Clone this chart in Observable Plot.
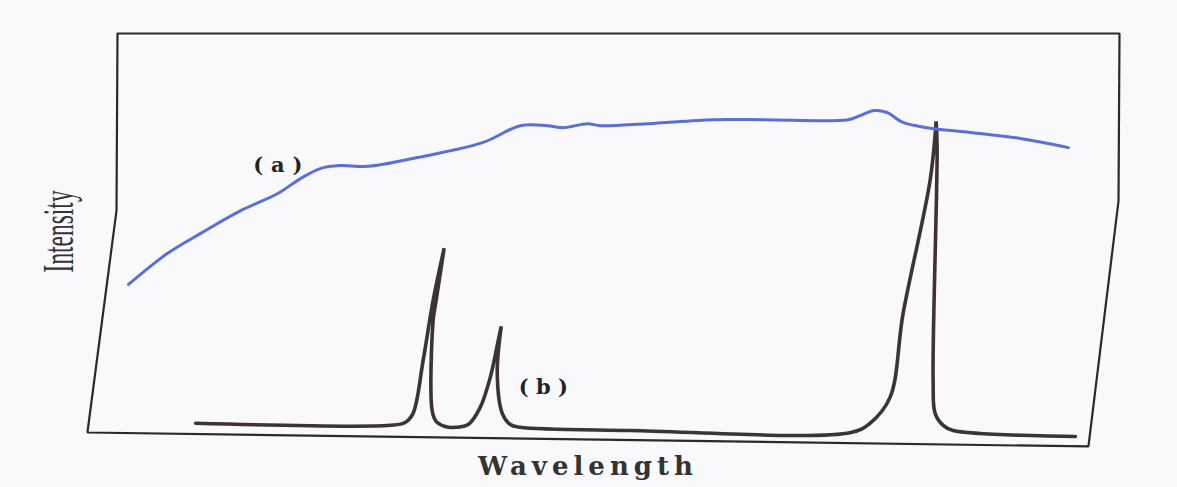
<!DOCTYPE html>
<html>
<head>
<meta charset="utf-8">
<script src="https://cdn.jsdelivr.net/npm/d3@7"></script>
<script src="https://cdn.jsdelivr.net/npm/@observablehq/plot@0.6"></script>
<style>
  html, body { margin: 0; padding: 0; background: #f9f9fb; }
  #chart svg { display: block; background: #f9f9fb; }
</style>
</head>
<body>
<div id="chart"></div>
<script>
// Spectrum (a): continuous source — wavelength (arb. units), intensity (arb. units)
const curveAWavelength = [11, 50, 83, 123, 160, 183, 203, 222, 250, 299, 365, 402, 429, 445, 469, 482, 529, 595, 645, 729, 741, 755, 768, 784, 808, 851, 901, 949];
const curveAIntensity  = [37.1, 44.9, 49.9, 55.6, 59.9, 63.7, 66.2, 66.9, 66.7, 68.9, 72.7, 76.9, 76.9, 76.4, 77.4, 76.9, 77.4, 78.4, 78.4, 78.4, 79.4, 80.7, 80.2, 77.7, 76.4, 75.2, 73.7, 71.4];

// Spectrum (b): line source — traced pen path (wavelength, intensity); peak tips repeated for a sharp cusp
const curveBWavelength = [78, 272, 287, 295, 305, 315, 326, 326, 318, 315, 314, 318, 327, 338, 350, 362, 372, 380, 383, 383, 379, 384, 392, 402, 512, 732, 751, 771, 784, 811, 817, 817, 818, 814, 816, 824, 834, 956];
const curveBIntensity  = [2.3, 1.8, 2.5, 4.8, 18.0, 33.1, 46.2, 46.2, 33.1, 28.1, 5.5, 2.8, 1.5, 1.3, 2.0, 6.3, 13.8, 23.1, 26.6, 26.6, 14.8, 4.8, 2.0, 1.3, 0.5, 0.0, 2.3, 8.8, 29.8, 63.2, 78.0, 78.0, 71.4, 13.0, 4.8, 1.8, 0.5, -1.0];

// Hand-drawn (skewed) frame outline, in the same units
const frameWavelength = [0, 1000, 999, 969, -30, -1, 0];
const frameIntensity  = [100, 100, 58, -3.5, 0, 55.6, 100];

// Labels
const labelText       = ["(a)", "(b)"];
const labelWavelength = [160, 425];
const labelIntensity  = [66.9, 11.3];
const xTitle = "Wavelength";
const yTitle = "Intensity";

const curveA = curveAWavelength.map((w, i) => ({w, v: curveAIntensity[i]}));
const curveB = curveBWavelength.map((w, i) => ({w, v: curveBIntensity[i]}));
const frame  = frameWavelength.map((w, i) => ({w, v: frameIntensity[i]}));
const labels = labelText.map((t, i) => ({t, w: labelWavelength[i], v: labelIntensity[i]}));

const svg = Plot.plot({
  width: 1177,
  height: 487,
  marginLeft: 117,
  marginRight: 58,
  marginTop: 33,
  marginBottom: 55,
  style: {background: "#f9f9fb"},
  x: {domain: [0, 1000], axis: null},
  y: {domain: [0, 100], axis: null},
  marks: [
    Plot.line(frame, {x: "w", y: "v", stroke: "#2a2a2a", strokeWidth: 2.2, strokeLinejoin: "miter"}),
    Plot.line(curveB, {x: "w", y: "v", stroke: "#3b3334", strokeWidth: 3.6, curve: "catmull-rom", strokeLinejoin: "miter"}),
    Plot.line(curveA, {x: "w", y: "v", stroke: "#5a6fd8", strokeWidth: 3, curve: "catmull-rom"}),
    Plot.text(labels, {x: "w", y: "v", text: "t", fontSize: 21, fontWeight: "bold", fontFamily: "DejaVu Serif", fill: "#222", className: "lab"}),
    Plot.text([yTitle], {x: -58, y: 50.4, text: d => d, rotate: -90, fontSize: 44, fontFamily: "Liberation Serif", fill: "#333", className: "ytitle"}),
    Plot.text([xTitle], {x: 467, y: -8.5, text: d => d, fontSize: 26, fontWeight: "bold", fontFamily: "DejaVu Serif", fill: "#333", className: "xtitle"})
  ]
});

const s = d3.select(svg);
s.selectAll(".ytitle text").attr("textLength", 82).attr("lengthAdjust", "spacingAndGlyphs");
s.selectAll(".xtitle text").attr("textLength", 215).attr("lengthAdjust", "spacing");
s.selectAll(".lab text").attr("textLength", 49).attr("lengthAdjust", "spacing");
document.getElementById("chart").appendChild(svg);
</script>
</body>
</html>
